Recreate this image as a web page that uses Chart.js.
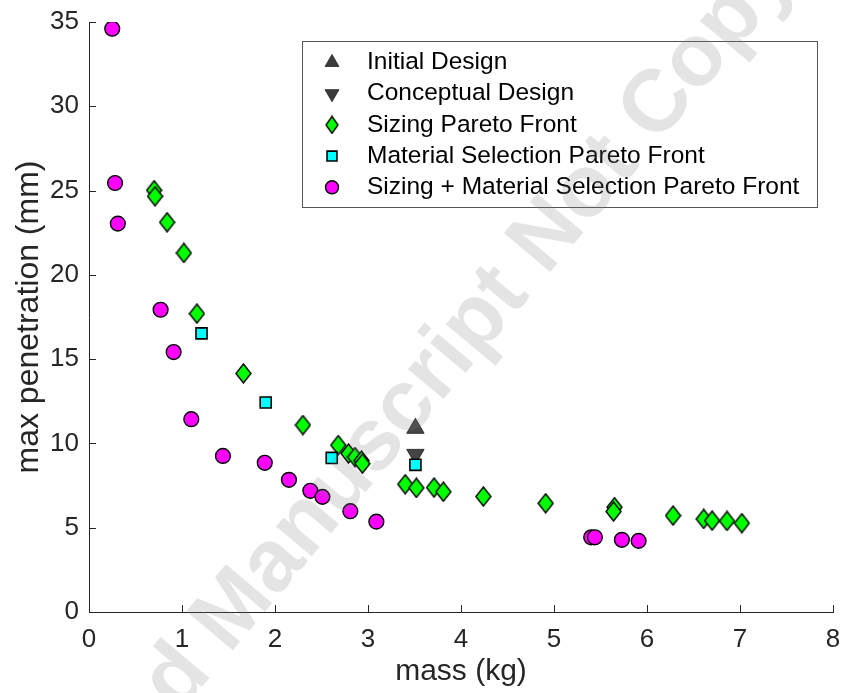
<!DOCTYPE html>
<html><head><meta charset="utf-8">
<script src="https://cdn.jsdelivr.net/npm/chart.js@4.4.0/dist/chart.umd.min.js"></script>
<style>html,body{margin:0;padding:0;background:#fff;}#wrap{width:844px;height:693px;}</style>
</head><body><div id="wrap"><canvas id="c" width="844" height="693"></canvas></div>
<script>
// ---- data ----
const seriesLabels = ['Initial Design', 'Conceptual Design', 'Sizing Pareto Front', 'Material Selection Pareto Front', 'Sizing + Material Selection Pareto Front'];
const initialMass = [3.51];
const initialPen = [10.9];
const conceptMass = [3.51];
const conceptPen = [9.35];
const sizingMass = [0.70, 0.71, 0.84, 1.02, 1.16, 1.66, 2.30, 2.68, 2.79, 2.86, 2.93, 2.94, 3.40, 3.52, 3.71, 3.81, 4.24, 4.91, 5.65, 5.64, 6.28, 6.61, 6.70, 6.86, 7.02];
const sizingPen = [25.02, 24.66, 23.12, 21.3, 17.7, 14.15, 11.09, 9.90, 9.40, 9.19, 8.98, 8.80, 7.58, 7.36, 7.38, 7.13, 6.85, 6.45, 6.22, 5.96, 5.72, 5.52, 5.42, 5.40, 5.27];
const materialMass = [1.21, 1.90, 2.61, 3.51];
const materialPen = [16.53, 12.43, 9.14, 8.73];
const comboMass = [0.25, 0.28, 0.31, 0.77, 0.91, 1.10, 1.44, 1.89, 2.15, 2.38, 2.51, 2.81, 3.09, 5.40, 5.44, 5.73, 5.91];
const comboPen = [34.6, 25.45, 23.04, 17.93, 15.42, 11.44, 9.26, 8.85, 7.84, 7.19, 6.83, 5.98, 5.36, 4.43, 4.43, 4.28, 4.22];
const xTicks = [0, 1, 2, 3, 4, 5, 6, 7, 8];
const yTicks = [0, 5, 10, 15, 20, 25, 30, 35];
const xTitle = 'mass (kg)';
const yTitle = 'max penetration (mm)';
const watermarkText = 'Accepted Manuscript Not Copyedited';

const FONT = '"Liberation Sans", Arial, Helvetica, sans-serif';
const AXIS = '#262626';

function pts(xs, ys) { return xs.map((x, i) => ({x: x, y: ys[i]})); }

// diamond marker (taller than wide, like MATLAB)
function makeDiamond(w, h) {
  const c = document.createElement('canvas');
  c.width = w + 2; c.height = h + 2;
  const g = c.getContext('2d');
  g.beginPath();
  g.moveTo(c.width / 2, 1);
  g.lineTo(c.width - 1, c.height / 2);
  g.lineTo(c.width / 2, c.height - 1);
  g.lineTo(1, c.height / 2);
  g.closePath();
  g.fillStyle = '#00ff00';
  g.fill();
  g.lineWidth = 1.4;
  g.strokeStyle = '#000';
  g.stroke();
  return c;
}
const diamond = makeDiamond(15, 19);
const diamondSmall = makeDiamond(12, 17);

const datasets = [
  {label: seriesLabels[0], data: pts(initialMass, initialPen), pointStyle: 'triangle', pointRadius: 10, pointBackgroundColor: '#454545', pointBorderColor: '#303030', pointBorderWidth: 1, order: 5},
  {label: seriesLabels[1], data: pts(conceptMass, conceptPen), pointStyle: 'triangle', pointRotation: 180, pointRadius: 10, pointBackgroundColor: '#454545', pointBorderColor: '#303030', pointBorderWidth: 1, order: 4},
  {label: seriesLabels[2], data: pts(sizingMass, sizingPen), pointStyle: diamond, pointRadius: 9, order: 3},
  {label: seriesLabels[3], data: pts(materialMass, materialPen), pointStyle: 'rect', pointRadius: 7.8, pointBackgroundColor: '#00ffff', pointBorderColor: '#000', pointBorderWidth: 1.6, order: 2},
  {label: seriesLabels[4], data: pts(comboMass, comboPen), pointStyle: 'circle', pointRadius: 7.4, pointBackgroundColor: '#ff00ff', pointBorderColor: '#000', pointBorderWidth: 1.4, order: 1}
];

const legendMarkers = [
  {pointStyle: 'triangle', radius: 8, rotation: 0, fill: '#3a3a3a', stroke: '#3a3a3a', bw: 1},
  {pointStyle: 'triangle', radius: 8, rotation: 180, fill: '#3a3a3a', stroke: '#3a3a3a', bw: 1},
  {pointStyle: diamondSmall, radius: 8, rotation: 0, fill: '#00ff00', stroke: '#000', bw: 0},
  {pointStyle: 'rect', radius: 7, rotation: 0, fill: '#00ffff', stroke: '#000', bw: 1.6},
  {pointStyle: 'circle', radius: 6.5, rotation: 0, fill: '#ff00ff', stroke: '#000', bw: 1.4}
];

const insideTicks = {
  id: 'insideTicks',
  beforeDatasetsDraw(chart) {
    const {ctx, chartArea, scales} = chart;
    ctx.save();
    ctx.strokeStyle = AXIS;
    ctx.lineWidth = 1;
    xTicks.forEach(v => {
      const px = Math.round(scales.x.getPixelForValue(v)) + 0.5;
      ctx.beginPath(); ctx.moveTo(px, chartArea.bottom); ctx.lineTo(px, chartArea.bottom - 7); ctx.stroke();
    });
    yTicks.forEach(v => {
      const py = Math.round(scales.y.getPixelForValue(v)) + 0.5;
      ctx.beginPath(); ctx.moveTo(chartArea.left, py); ctx.lineTo(chartArea.left + 7, py); ctx.stroke();
    });
    ctx.restore();
  }
};

const boxLegend = {
  id: 'boxLegend',
  afterDatasetsDraw(chart) {
    const ctx = chart.ctx;
    ctx.save();
    ctx.fillStyle = '#fff';
    ctx.fillRect(302, 41, 515, 166);
    ctx.strokeStyle = '#555';
    ctx.lineWidth = 1;
    ctx.strokeRect(302.5, 41.5, 515, 166);
    chart.data.datasets.forEach((ds, i) => {
      const y = 62.5 + i * 31.2;
      const m = legendMarkers[i];
      ctx.fillStyle = m.fill;
      ctx.strokeStyle = m.stroke;
      ctx.lineWidth = m.bw;
      Chart.helpers.drawPoint(ctx, {pointStyle: m.pointStyle, radius: m.radius, rotation: m.rotation, borderWidth: m.bw}, 332, y);
      ctx.fillStyle = '#000';
      ctx.font = '24.5px ' + FONT;
      ctx.textBaseline = 'middle';
      ctx.textAlign = 'left';
      ctx.fillText(ds.label, 367, y);
    });
    ctx.restore();
  }
};

const watermark = {
  id: 'watermark',
  afterDraw(chart) {
    const ctx = chart.ctx;
    ctx.save();
    ctx.translate(443, 362);
    ctx.rotate(-50 * Math.PI / 180);
    ctx.font = 'bold 88px ' + FONT;
    ctx.fillStyle = 'rgba(128,128,128,0.21)';
    ctx.textAlign = 'center';
    ctx.textBaseline = 'middle';
    ctx.fillText(watermarkText, 0, 0);
    ctx.restore();
  }
};

new Chart(document.getElementById('c'), {
  type: 'scatter',
  data: {datasets: datasets},
  plugins: [insideTicks, boxLegend, watermark],
  options: {
    responsive: false,
    animation: false,
    layout: {padding: {top: 22, right: 6, left: 0, bottom: 0}},
    plugins: {legend: {display: false}, tooltip: {enabled: false}},
    scales: {
      x: {
        type: 'linear', min: 0, max: 8,
        afterBuildTicks: s => { s.ticks = xTicks.map(v => ({value: v})); },
        afterFit: s => { s.height = 81; s.paddingLeft = 0; s.paddingRight = 0; },
        ticks: {font: {size: 26, family: FONT}, color: AXIS, padding: 12, maxRotation: 0, autoSkip: false},
        grid: {display: true, drawOnChartArea: false, drawTicks: false},
        border: {display: true, color: AXIS, width: 1},
        title: {display: true, text: xTitle, font: {size: 30, family: FONT}, color: AXIS, padding: {top: 0, bottom: 3}}
      },
      y: {
        type: 'linear', min: 0, max: 35,
        afterBuildTicks: s => { s.ticks = yTicks.map(v => ({value: v})); },
        afterFit: s => { s.width = 89; s.paddingTop = 0; s.paddingBottom = 0; },
        ticks: {font: {size: 26, family: FONT}, color: AXIS, padding: 10, autoSkip: false},
        grid: {display: true, drawOnChartArea: false, drawTicks: false},
        border: {display: true, color: AXIS, width: 1},
        title: {display: true, text: yTitle, font: {size: 32, family: FONT}, color: AXIS, padding: {top: 10, bottom: 0}}
      }
    }
  }
});
</script>
</body></html>
